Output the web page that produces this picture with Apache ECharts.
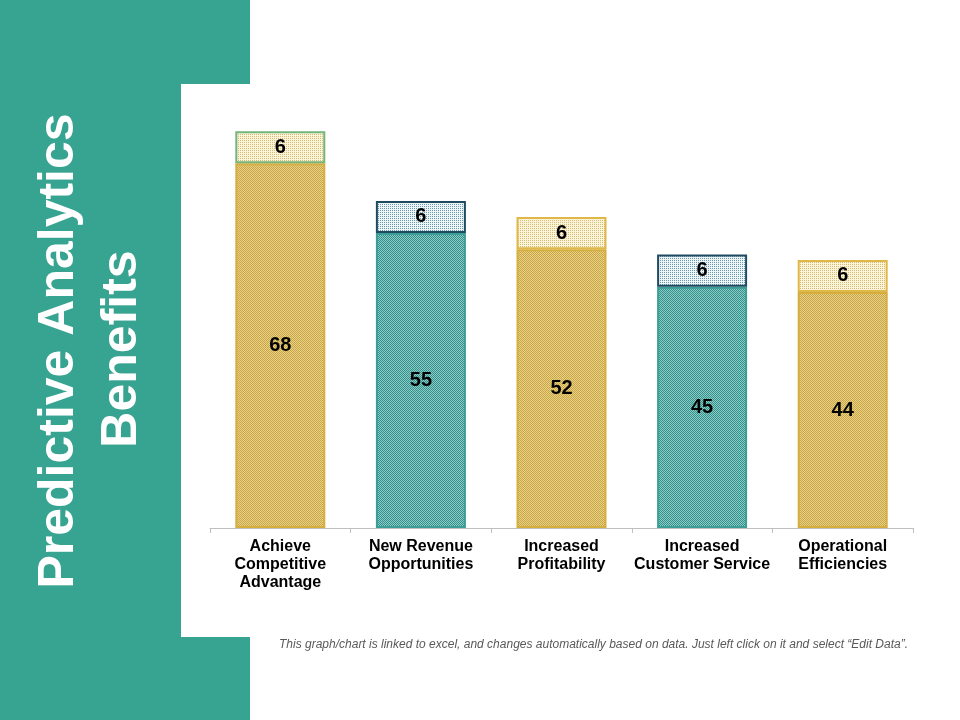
<!DOCTYPE html>
<html>
<head>
<meta charset="utf-8">
<script src="https://cdn.jsdelivr.net/npm/echarts@6/dist/echarts.min.js"></script>
<style>
html,body{margin:0;padding:0;background:#fff;}
#main{width:960px;height:720px;}
</style>
</head>
<body>
<div id="main"></div>
<script>
var categories = ['Achieve\nCompetitive\nAdvantage', 'New Revenue\nOpportunities', 'Increased\nProfitability', 'Increased\nCustomer Service', 'Operational\nEfficiencies'];
var baseValues = [68, 55, 52, 45, 44];
var topValues = [6, 6, 6, 6, 6];
var titleLines = ['Predictive Analytics', 'Benefits'];
var footnote = 'This graph/chart is linked to excel, and changes automatically based on data. Just left click on it and select \u201CEdit Data\u201D.';

function makePattern(bg, fg, type) {
  var c = document.createElement('canvas');
  c.width = 2; c.height = 2;
  var ctx = c.getContext('2d');
  ctx.fillStyle = bg; ctx.fillRect(0, 0, 2, 2);
  ctx.fillStyle = fg;
  if (type === 'checker') {
    ctx.fillRect(0, 0, 1, 1); ctx.fillRect(1, 1, 1, 1);
  } else {
    ctx.fillRect(0, 0, 1, 1);
  }
  return { image: c, repeat: 'repeat' };
}

var goldBase = makePattern('#E6D08E', '#CCA73F', 'checker');
var tealBase = makePattern('#93C9C5', '#2E938C', 'checker');
var goldTop = makePattern('#FBF4D8', '#D2BC78', 'dots');
var tealTop = makePattern('#EEF5F6', '#6B98AA', 'dots');

var baseStyles = [
  { color: goldBase, borderColor: '#D6AE3E' },
  { color: tealBase, borderColor: '#3A9E96' },
  { color: goldBase, borderColor: '#D6AE3E' },
  { color: tealBase, borderColor: '#3A9E96' },
  { color: goldBase, borderColor: '#D6AE3E' }
];
var topStyles = [
  { color: goldTop, borderColor: '#74B67A' },
  { color: tealTop, borderColor: '#1F4B62' },
  { color: goldTop, borderColor: '#E0B84A' },
  { color: tealTop, borderColor: '#1F4B62' },
  { color: goldTop, borderColor: '#E0B84A' }
];

var chart = echarts.init(document.getElementById('main'));
var labelStyle = { show: true, position: 'inside', color: '#000', fontFamily: 'Liberation Sans, Arial, sans-serif', fontWeight: 'bold', fontSize: 20 };

chart.setOption({
  animation: false,
  backgroundColor: '#ffffff',
  graphic: [
    { type: 'rect', z: -10, shape: { x: 0, y: 0, width: 250, height: 720 }, style: { fill: '#37A391' } },
    { type: 'rect', z: -9, shape: { x: 181, y: 84, width: 779, height: 553 }, style: { fill: '#ffffff' } },
    { type: 'text', x: 59, y: 351, rotation: Math.PI / 2, style: { text: titleLines[0], fill: '#ffffff', font: 'bold 50px "Liberation Sans", Arial, sans-serif', textAlign: 'center', textVerticalAlign: 'middle' } },
    { type: 'text', x: 122, y: 349, rotation: Math.PI / 2, style: { text: titleLines[1], fill: '#ffffff', font: 'bold 50px "Liberation Sans", Arial, sans-serif', textAlign: 'center', textVerticalAlign: 'middle' } },
    { type: 'text', x: 279, y: 645, style: { text: footnote, fill: '#595959', font: 'italic 12px "Liberation Sans", Arial, sans-serif', textAlign: 'left', textVerticalAlign: 'middle' } }
  ],
  grid: { left: 210, right: 47, top: 99, bottom: 192 },
  xAxis: {
    type: 'category',
    data: categories,
    axisLine: { lineStyle: { color: '#BFBFBF', width: 1 } },
    axisTick: { show: true, length: 5, lineStyle: { color: '#BFBFBF' } },
    axisLabel: { color: '#000', fontFamily: 'Liberation Sans, Arial, sans-serif', fontWeight: 'bold', fontSize: 16, lineHeight: 18, margin: 10, interval: 0 }
  },
  yAxis: { type: 'value', min: 0, max: 80, show: false, splitLine: { show: false } },
  series: [
    {
      type: 'bar', stack: 'total', barWidth: 90,
      label: labelStyle,
      data: baseValues.map(function (v, i) { return { value: v, itemStyle: { color: baseStyles[i].color, borderColor: baseStyles[i].borderColor, borderWidth: 2 } }; })
    },
    {
      type: 'bar', stack: 'total', barWidth: 90,
      label: labelStyle,
      data: topValues.map(function (v, i) { return { value: v, itemStyle: { color: topStyles[i].color, borderColor: topStyles[i].borderColor, borderWidth: 2 } }; })
    }
  ]
});
</script>
</body>
</html>
